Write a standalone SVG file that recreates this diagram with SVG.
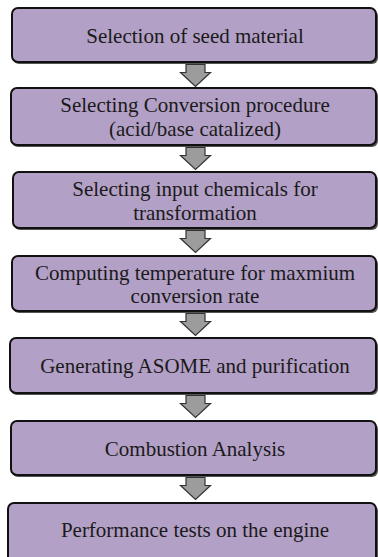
<svg xmlns="http://www.w3.org/2000/svg" width="378" height="557" viewBox="0 0 378 557">
<defs>
<style>
.box{fill:#b3a0c6;stroke:#111;stroke-width:2}
.sh{fill:#555;stroke:none}
.t{font-family:"Liberation Serif","Times New Roman",serif;font-size:21px;fill:#1a1a1a;text-anchor:middle}
.arr{fill:#9c9c9c;stroke:#333;stroke-width:1.2;stroke-linejoin:miter}
</style>
<path id="ar" d="M-9.5,0 H9.5 V8 H15 L0,22 L-15,8 H-9.5 Z"/>
</defs>
<rect width="378" height="557" fill="#fff"/>
<g id="connectors">
<use href="#ar" class="arr" x="195.5" y="64.5"/>
<use href="#ar" class="arr" x="195.5" y="147.5"/>
<use href="#ar" class="arr" x="195.5" y="230.5"/>
<use href="#ar" class="arr" x="195.5" y="313.5"/>
<use href="#ar" class="arr" x="195.5" y="395.5"/>
<use href="#ar" class="arr" x="195.5" y="477.5"/>
</g>
<g id="n1">
<rect class="sh" x="13" y="10" width="365" height="54" rx="6"/>
<rect class="box" x="12" y="8" width="364" height="54" rx="6"/>
<text class="t" x="195" y="42.5">Selection of seed material</text>
</g>
<g id="n2">
<rect class="sh" x="12" y="90" width="366" height="57" rx="6"/>
<rect class="box" x="11" y="88" width="365" height="57" rx="6"/>
<text class="t" x="195" y="112">Selecting Conversion procedure</text>
<text class="t" x="195" y="135.5">(acid/base catalized)</text>
</g>
<g id="n3">
<rect class="sh" x="14" y="174" width="364" height="56" rx="6"/>
<rect class="box" x="13" y="172" width="363" height="56" rx="6"/>
<text class="t" x="195" y="196">Selecting input chemicals for</text>
<text class="t" x="195" y="219.5">transformation</text>
</g>
<g id="n4">
<rect class="sh" x="13" y="258" width="365" height="55" rx="6"/>
<rect class="box" x="12" y="256" width="364" height="55" rx="6"/>
<text class="t" x="195" y="279.5">Computing temperature for maxmium</text>
<text class="t" x="195" y="303">conversion rate</text>
</g>
<g id="n5">
<rect class="sh" x="11" y="340" width="367" height="55" rx="6"/>
<rect class="box" x="10" y="338" width="366" height="55" rx="6"/>
<text class="t" x="195" y="373">Generating ASOME and purification</text>
</g>
<g id="n6">
<rect class="sh" x="12" y="423" width="366" height="54" rx="6"/>
<rect class="box" x="11" y="421" width="365" height="54" rx="6"/>
<text class="t" x="195" y="456">Combustion Analysis</text>
</g>
<g id="n7">
<rect class="sh" x="9" y="505" width="369" height="60" rx="6"/>
<rect class="box" x="8" y="503" width="368" height="60" rx="6"/>
<text class="t" x="195" y="537">Performance tests on the engine</text>
</g>
</svg>
